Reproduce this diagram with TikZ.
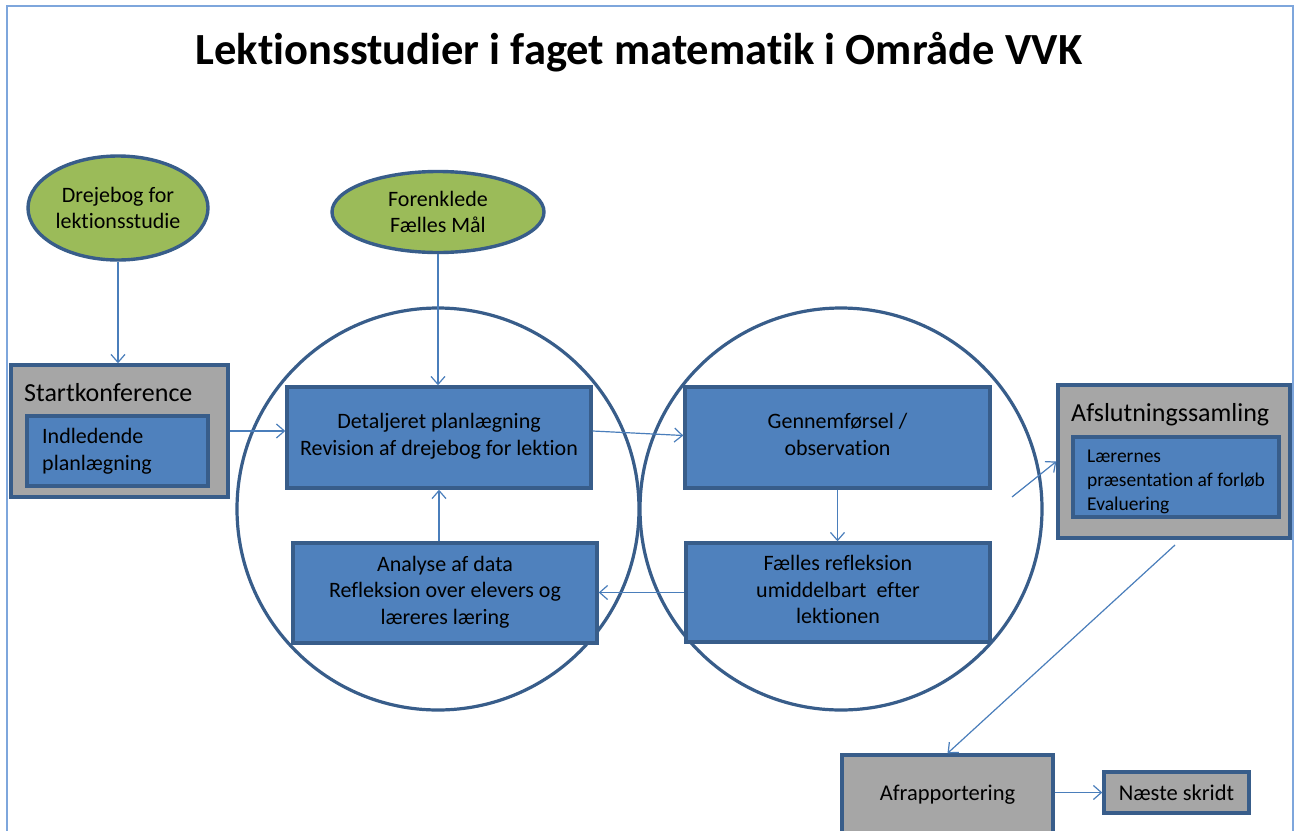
\documentclass[tikz,border=0pt]{standalone}
\usepackage{fontspec}
\setmainfont{Carlito}[Ligatures=NoCommon]
\usetikzlibrary{arrows.meta,shapes.geometric}
\definecolor{frameblue}{HTML}{7EA6DC}
\definecolor{edgeblue}{HTML}{385D8A}
\definecolor{fillblue}{HTML}{4F81BD}
\definecolor{arrowblue}{HTML}{4A7EBB}
\definecolor{boxgray}{HTML}{A6A6A6}
\definecolor{leafgreen}{HTML}{9BBB59}
\tikzset{
  bluebox/.style={draw=edgeblue,line width=3.4pt,fill=fillblue,rectangle,inner sep=0pt,align=center,font=\fontsize{22}{26.5}\selectfont},
  liftup/.style={execute at end node={\rule[-6pt]{0pt}{6pt}}},
  graybox/.style={draw=edgeblue,line width=3.4pt,fill=boxgray,rectangle,inner sep=0pt},
  greenoval/.style={draw=edgeblue,line width=3.4pt,fill=leafgreen,ellipse,inner sep=0pt,align=center,font=\fontsize{22}{25.5}\selectfont},
  bigring/.style={draw=edgeblue,line width=3.2pt,circle,inner sep=0pt},
  arr/.style={draw=arrowblue,line width=1.2pt,-{Straight Barb[length=8pt,width=14pt,line width=1.2pt]}},
}
\begin{document}
\begin{tikzpicture}[x=1pt,y=-1pt]
\useasboundingbox (0,0) rectangle (1295,830);
\fill[white] (0,0) rectangle (1295,830);
\draw[frameblue,line width=2pt] (7,840) -- (7,6) -- (1293,6) -- (1293,840);
\node[anchor=base,inner sep=0pt,font=\bfseries\fontsize{44.5}{50}\selectfont] (title) at (639,64) {Lektionsstudier i faget matematik i Område VVK};
% big circles
\node[bigring,minimum size=402pt] (c1) at (438,509) {};
\node[bigring,minimum size=402pt] (c2) at (841,509) {};
% ovals
\node[greenoval,minimum width=180pt,minimum height=104pt] (e1) at (118,208) {Drejebog for\\lektionsstudie};
\node[greenoval,minimum width=212pt,minimum height=81pt] (e2) at (438,212) {Forenklede\\Fælles Mål};
% start conference
\node[graybox,minimum width=217pt,minimum height=132pt] (start) at (119.5,431) {};
\node[anchor=base west,font=\fontsize{26}{30}\selectfont,inner sep=0pt] (startlbl) at (24,401) {Startkonference};
\node[bluebox,minimum width=181pt,minimum height=70pt] (indl) at (117.5,451) {};
\node[anchor=west,align=left,font=\fontsize{22}{27}\selectfont,inner sep=0pt] (indltxt) at (42,451) {Indledende\\planlægning};
% cycle boxes
\node[bluebox,liftup,minimum width=304pt,minimum height=101pt] (det) at (439,437.5) {Detaljeret planlægning\\Revision af drejebog for lektion};
\node[bluebox,liftup,minimum width=305pt,minimum height=101pt] (gen) at (837.5,437.5) {Gennemførsel /\\observation};
\node[bluebox,liftup,minimum width=304pt,minimum height=99pt] (fael) at (838,592.5) {Fælles refleksion\\umiddelbart\ \ efter\\lektionen};
\node[bluebox,liftup,minimum width=304pt,minimum height=100pt] (ana) at (445,593) {Analyse af data\\Refleksion over elevers og\\læreres læring};
% afslutning
\node[graybox,minimum width=232pt,minimum height=153pt] (afs) at (1174,461.5) {};
\node[anchor=base west,font=\fontsize{26}{30}\selectfont,inner sep=0pt] (afslbl) at (1071,421) {Afslutningssamling};
\node[bluebox,minimum width=206pt,minimum height=80pt] (afsin) at (1176,477) {};
\node[anchor=west,align=left,font=\fontsize{19.5}{24}\selectfont,inner sep=0pt] (afstxt) at (1087,482) {Lærernes\\præsentation af forløb\\Evaluering};
% afrapportering
\node[graybox,minimum width=211pt,minimum height=80pt,font=\fontsize{22.5}{26}\selectfont] (afr) at (947.5,795) {Afrapportering};
\node[graybox,minimum width=145pt,minimum height=41pt,font=\fontsize{22.5}{26}\selectfont] (nxt) at (1176.5,792.5) {Næste skridt};
% connectors
\draw[arr] (e1.south) -- (e1.south |- start.north);
\draw[arr] (start.east) -- (start.east -| det.west);
\draw[arr] (e2.south) -- (e2.south |- det.north);
\draw[arr] ([yshift=6.5pt]det.east) -- ([yshift=2pt]gen.west);
\draw[arr] (gen.south) -- (gen.south |- fael.north);
\draw[arr] (fael.west) -- (fael.west -| ana.east);
\draw[arr] (det.south |- ana.north) -- (det.south);
\coordinate (a1) at (1012,497);
\draw[arr] (a1) -- (afs.west);
\coordinate (a2) at (1175,545);
\draw[arr] (a2) -- (afr.north);
\draw[arr] (afr.east |- nxt.west) -- (nxt.west);
\end{tikzpicture}
\end{document}
